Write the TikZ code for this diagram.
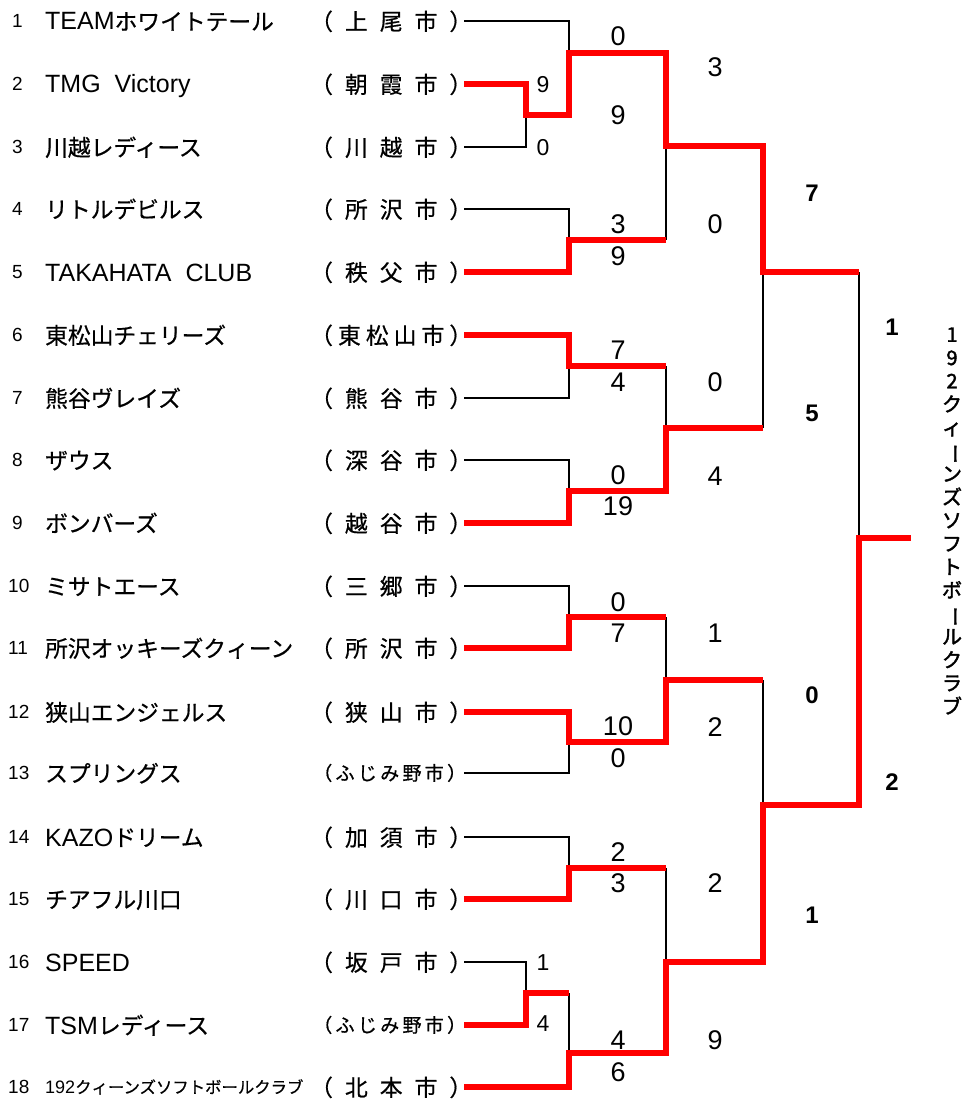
\documentclass[tikz,border=0pt]{standalone}
\usepackage{fontspec}
\setmainfont{Liberation Sans}
\newfontfamily\jp[Scale=0.91,FakeBold=0.6]{Noto Sans CJK JP}
\newfontfamily\jpb[FakeBold=2]{Noto Sans CJK JP}
\newcommand\ctyb[3]{\makebox[162pt]{（\hfill#1\hfill#2\hfill#3\hfill）}}
\newcommand\ctyf{\makebox[153pt]{（\hfill ふ\hfill じ\hfill み\hfill 野\hfill 市\hfill ）}}
\begin{document}
\begin{tikzpicture}[x=1pt,y=-1pt,
  rownum/.style={font=\fontsize{19}{19}\selectfont, anchor=base west, inner sep=0, yshift=-6.8pt},
  team/.style={font=\fontsize{25}{25}\selectfont, anchor=base west, inner sep=0, yshift=-9pt},
  city/.style={font=\fontsize{25}{25}\selectfont\jp, anchor=base west, inner sep=0, yshift=-9pt},
  scoreL/.style={font=\fontsize{27}{27}\selectfont, anchor=base, inner sep=0, yshift=-9.7pt},
  scoreS/.style={font=\fontsize{23}{23}\selectfont, anchor=base, inner sep=0, yshift=-8.2pt},
  scoreB/.style={font=\fontsize{24}{24}\selectfont\bfseries, anchor=base, inner sep=0, yshift=-8.6pt},
  lose/.style={draw=black, line width=1.5pt},
  win/.style={draw=red, line width=6pt, line join=miter},
]
\fill[white] (0,0) rectangle (968,1099);
\useasboundingbox (0,0) rectangle (968,1099);

% row numbers
\foreach \n/\y in {1/21,2/84,3/147,4/209,5/272,6/335,7/398,8/460,9/523}
  \node[rownum] (n\n) at (12,\y) {\n};
\foreach \n/\y in {10/586,11/648,12/712,13/773,14/837,15/899,16/962,17/1025,18/1087}
  \node[rownum] (n\n) at (8,\y) {\n};

% team names
\node[team] (m1) at (45,21) {TEAM{\jp ホワイトテール}};
\node[team] (m2) at (45,84) {TMG\ \ Victory};
\node[team] (m3) at (45,147) {{\jp 川越レディース}};
\node[team] (m4) at (45,209) {{\jp リトルデビルス}};
\node[team] (m5) at (45,272) {TAKAHATA\ \ CLUB};
\node[team] (m6) at (45,335) {{\jp 東松山チェリーズ}};
\node[team] (m7) at (45,398) {{\jp 熊谷ヴレイズ}};
\node[team] (m8) at (45,460) {{\jp ザウス}};
\node[team] (m9) at (45,523) {{\jp ボンバーズ}};
\node[team] (m10) at (45,586) {{\jp ミサトエース}};
\node[team] (m11) at (45,648) {{\jp 所沢オッキーズクィーン}};
\node[team] (m12) at (45,712) {{\jp 狭山エンジェルス}};
\node[team] (m13) at (45,773) {{\jp スプリングス}};
\node[team] (m14) at (45,837) {KAZO{\jp ドリーム}};
\node[team] (m15) at (45,899) {{\jp チアフル川口}};
\node[team] (m16) at (45,962) {SPEED};
\node[team] (m17) at (45,1025) {TSM{\jp レディース}};
\node[team, font=\fontsize{18}{18}\selectfont, yshift=2.7pt] (m18) at (45,1087) {192{\jp クィーンズソフトボールクラブ}};

% cities
\node[city] (c1) at (310,21) {\ctyb{上}{尾}{市}};
\node[city] (c2) at (310,84) {\ctyb{朝}{霞}{市}};
\node[city] (c3) at (310,147) {\ctyb{川}{越}{市}};
\node[city] (c4) at (310,209) {\ctyb{所}{沢}{市}};
\node[city] (c5) at (310,272) {\ctyb{秩}{父}{市}};
\node[city] (c6) at (310,335) {\makebox[162pt]{（\hfill 東\hfill 松\hfill 山\hfill 市\hfill ）}};
\node[city] (c7) at (310,398) {\ctyb{熊}{谷}{市}};
\node[city] (c8) at (310,460) {\ctyb{深}{谷}{市}};
\node[city] (c9) at (310,523) {\ctyb{越}{谷}{市}};
\node[city] (c10) at (310,586) {\ctyb{三}{郷}{市}};
\node[city] (c11) at (310,648) {\ctyb{所}{沢}{市}};
\node[city] (c12) at (310,712) {\ctyb{狭}{山}{市}};
\node[city, font=\fontsize{21}{21}\selectfont\jp, yshift=1.8pt] (c13) at (313,773) {\ctyf};
\node[city] (c14) at (310,837) {\ctyb{加}{須}{市}};
\node[city] (c15) at (310,899) {\ctyb{川}{口}{市}};
\node[city] (c16) at (310,962) {\ctyb{坂}{戸}{市}};
\node[city, font=\fontsize{21}{21}\selectfont\jp, yshift=1.8pt] (c17) at (313,1025) {\ctyf};
\node[city] (c18) at (310,1087) {\ctyb{北}{本}{市}};

% line starts
\foreach \n/\y in {1/21,2/84,3/147,4/209,5/272,6/335,7/398,8/460,9/523,10/586,11/648,12/712,13/773,14/837,15/899,16/962,17/1025,18/1087}
  \coordinate (t\n) at (464,\y);

% junctions
\coordinate (A) at (526,115);
\coordinate (B) at (526,993);
\coordinate (M1) at (569,53);
\coordinate (M2) at (569,240);
\coordinate (M3) at (569,366);
\coordinate (M4) at (569,491);
\coordinate (M5) at (569,617);
\coordinate (M6) at (569,742);
\coordinate (M7) at (569,868);
\coordinate (M8) at (569,1053);
\coordinate (Q1) at (666,146);
\coordinate (Q2) at (666,428);
\coordinate (Q3) at (666,680);
\coordinate (Q4) at (666,962);
\coordinate (S1) at (763,272);
\coordinate (S2) at (763,805);
\coordinate (F) at (859,538);
\coordinate (Out) at (911,538);

% losing lines
\draw[lose] (t1) -| (M1);
\draw[lose] (t3) -| (A);
\draw[lose] (t4) -| (M2);
\draw[lose] (t7) -| (M3);
\draw[lose] (t8) -| (M4);
\draw[lose] (t10) -| (M5);
\draw[lose] (t13) -| (M6);
\draw[lose] (t14) -| (M7);
\draw[lose] (t16) -| (B);
\draw[lose] (M8 |- B) -- (M8);
\draw[lose] (Q1) -- (Q1 |- M2);
\draw[lose] (Q2) -- (Q2 |- M3);
\draw[lose] (Q3) -- (Q3 |- M5);
\draw[lose] (Q4) -- (Q4 |- M7);
\draw[lose] (S1) -- (S1 |- Q2);
\draw[lose] (S2) -- (S2 |- Q3);
\draw[lose] (F) -- (F |- S1);

% winning lines
\draw[win] (t2) -| (A) -| (M1) -| (Q1) -| (S1) -- (F |- S1);
\draw[win] (t5) -| (M2) -- (Q1 |- M2);
\draw[win] (t6) -| (M3) -- (Q2 |- M3);
\draw[win] (t9) -| (M4) -| (Q2) -- (S1 |- Q2);
\draw[win] (t11) -| (M5) -- (Q3 |- M5);
\draw[win] (t12) -| (M6) -| (Q3) -- (S2 |- Q3);
\draw[win] (t15) -| (M7) -- (Q4 |- M7);
\draw[win] (t17) -| (B) -- (M8 |- B);
\draw[win] (t18) -| (M8) -| (Q4) -| (S2) -| (F) -- (Out);

% scores
\foreach \y/\t [count=\i] in {84/9,147/0,962/1,1023/4}
  \node[scoreS] (sa\i) at (543,\y) {\t};
\foreach \y/\t [count=\i] in {36/0,115/9,224/3,256/9,350/7,382/4,475/0,506/19,602/0,633/7,726/10,758/0,852/2,883/3,1040/4,1072/6}
  \node[scoreL] (sb\i) at (618,\y) {\t};
\foreach \y/\t [count=\i] in {67/3,224/0,382/0,476/4,633/1,727/2,883/2,1040/9}
  \node[scoreL] (sc\i) at (715,\y) {\t};
\foreach \y/\t [count=\i] in {193/7,413/5,695/0,915/1}
  \node[scoreB] (sd\i) at (812,\y) {\t};
\foreach \y/\t [count=\i] in {327/1,782/2}
  \node[scoreB] (se\i) at (892,\y) {\t};

% champion (vertical)
\node[font=\fontsize{20}{23.25}\selectfont\jpb, align=center, inner sep=0] (champ) at (952,521)
  {1\\9\\2\\ク\\ィ\\\rotatebox[origin=c]{-90}{ー}\\ン\\ズ\\ソ\\フ\\ト\\ボ\\\rotatebox[origin=c]{-90}{ー}\\ル\\ク\\ラ\\ブ};
\end{tikzpicture}
\end{document}
